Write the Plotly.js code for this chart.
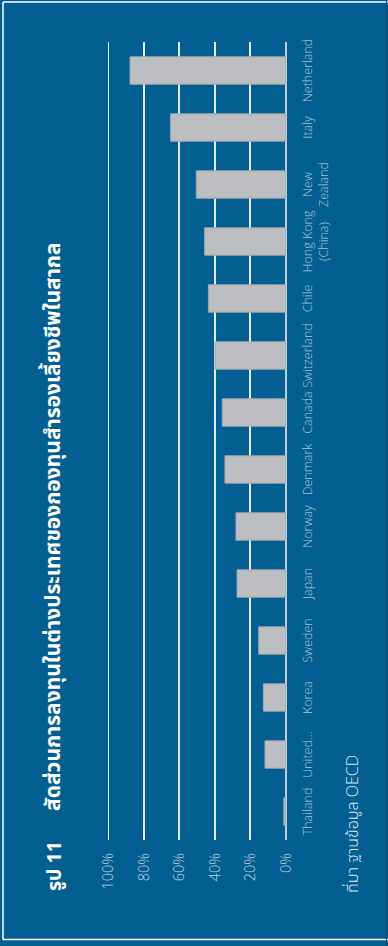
<!DOCTYPE html>
<html><head><meta charset="utf-8">
<script src="https://cdn.plot.ly/plotly-3.0.1.min.js"></script>
<style>
html,body{margin:0;padding:0;width:388px;height:946px;overflow:hidden;background:#035f91;}
#chart{position:absolute;left:0;top:0;width:946px;height:388px;transform-origin:0 0;transform:translateY(946px) rotate(-90deg);}
</style></head><body><div id="chart"></div>
<script>
const categories = ['Thailand','United...','Korea','Sweden','Japan','Norway','Denmark','Canada','Switzerland','Chile','Hong Kong<br>(China)','New<br>Zealand','Italy','Netherland'];
const shares = [1.2,11.8,12.7,15.3,27.5,28.1,34.3,35.8,39.9,43.6,45.7,50.4,64.8,87.6];
const yTickValues = [0,20,40,60,80,100];
const yTickLabels = ['0%','20%','40%','60%','80%','100%'];
const figureLabel = 'รูป 11';
const chartTitle = 'สัดส่วนการลงทุนในต่างประเทศของกองทุนสำรองเลี้ยงชีพในสากล';
const sourceNote = 'ที่มา ฐานข้อมูล OECD';

const FW = 946, FH = 388, L = 106, R = 42, T = 108, B = 102;
const PW = FW - L - R, PH = FH - T - B;
const px = v => (v - L) / PW;
const py = v => 1 - (v - T) / PH;
const font = 'Open Sans, Noto Sans, Noto Sans Thai, sans-serif';

const trace = {
  type: 'bar', x: categories, y: shares,
  marker: {color: '#bdbec1', line: {color: '#a3a8ae', width: 1}},
  width: 0.48, hoverinfo: 'skip'
};

const layout = {
  width: FW, height: FH,
  margin: {l: L, r: R, t: T, b: B, pad: 0},
  paper_bgcolor: '#035f91', plot_bgcolor: '#035f91',
  showlegend: false,
  font: {family: font, color: '#b7cbdb'},
  xaxis: {
    type: 'category', showgrid: false, zeroline: false, showline: false,
    ticks: 'outside', ticklen: 10, tickcolor: 'rgba(0,0,0,0)',
    tickfont: {size: 12.5, color: '#aac3d6', weight: 300},
    tickangle: 0, automargin: false, fixedrange: true
  },
  yaxis: {
    range: [0, 100], tickvals: yTickValues, ticktext: yTickLabels,
    showgrid: true, gridcolor: '#e3eaf0', gridwidth: 2,
    zeroline: true, zerolinecolor: '#c4cad0', zerolinewidth: 2,
    showline: false, ticks: '', ticklabelstandoff: 12,
    tickfont: {size: 14.5, color: '#c3d3e0', weight: 300},
    automargin: false, fixedrange: true
  },
  annotations: [
    {text: figureLabel, xref: 'paper', yref: 'paper', x: px(53), y: py(53),
     xanchor: 'left', yanchor: 'middle', showarrow: false,
     font: {family: font, size: 19.5, color: '#ffffff', weight: 700}},
    {text: chartTitle, xref: 'paper', yref: 'paper', x: px(133), y: py(52),
     xanchor: 'left', yanchor: 'middle', showarrow: false,
     font: {family: font, size: 21, color: '#ffffff', weight: 700}},
    {text: sourceNote, xref: 'paper', yref: 'paper', x: px(51), y: py(352),
     xanchor: 'left', yanchor: 'middle', showarrow: false,
     font: {family: font, size: 16, color: '#dbe6ef', weight: 300}}
  ],
  shapes: [
    {type: 'line', xref: 'paper', yref: 'y', x0: 0, x1: 1, y0: 100, y1: 100, layer: 'below', line: {color: '#e3eaf0', width: 2}},
    {type: 'line', xref: 'paper', yref: 'paper', x0: px(6.5), x1: px(6.5), y0: py(3), y1: py(FH + 5), line: {color: '#ffffff', width: 1.5}},
    {type: 'line', xref: 'paper', yref: 'paper', x0: px(6.5), x1: px(944), y0: py(3), y1: py(3), line: {color: '#ffffff', width: 1.5}},
    {type: 'line', xref: 'paper', yref: 'paper', x0: px(944), x1: px(944), y0: py(3), y1: py(FH + 5), line: {color: '#ffffff', width: 1.5}},
    {type: 'line', xref: 'paper', yref: 'paper', x0: px(0), x1: px(FW), y0: py(386.5), y1: py(386.5), line: {color: '#0b4f77', width: 1}}
  ]
};

Plotly.newPlot('chart', [trace], layout, {displayModeBar: false, staticPlot: true});
</script></body></html>
